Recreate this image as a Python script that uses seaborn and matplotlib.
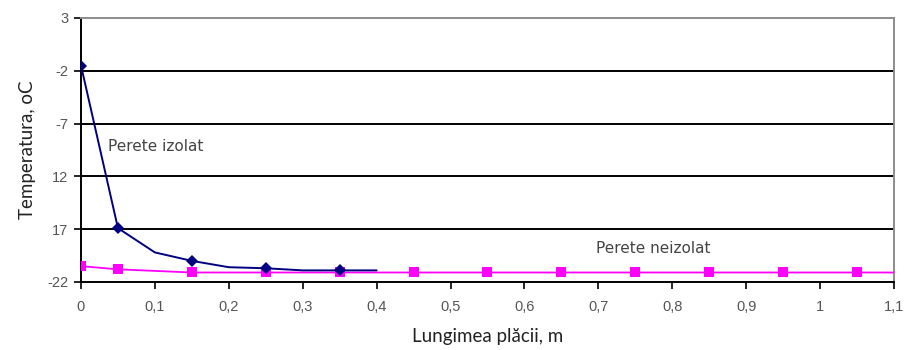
import matplotlib
matplotlib.use("Agg")
import matplotlib.pyplot as plt
import seaborn as sns
import pandas as pd

# Insulated wall: temperature along the plate
izolat_x = [0, 0.05, 0.1, 0.15, 0.2, 0.25, 0.3, 0.35, 0.4]
izolat_t = [-1.5, -16.9, -19.2, -20.0, -20.6, -20.7, -20.9, -20.9, -20.9]
izolat_marked = [0, 1, 3, 5, 7]

# Uninsulated wall
neizolat_x = [0, 0.05, 0.15, 0.25, 0.35, 0.45, 0.55, 0.65, 0.75, 0.85, 0.95, 1.05, 1.1]
neizolat_t = [-20.5, -20.8, -21.1, -21.1, -21.1, -21.1, -21.1, -21.1, -21.1, -21.1, -21.1, -21.1, -21.1]
neizolat_marked = list(range(12))

y_ticks = [3, -2, -7, -12, -17, -22]
y_tick_labels = ["3", "-2", "-7", "12", "17", "-22"]
x_ticks = [0, 0.1, 0.2, 0.3, 0.4, 0.5, 0.6, 0.7, 0.8, 0.9, 1.0, 1.1]
x_tick_labels = ["0", "0,1", "0,2", "0,3", "0,4", "0,5", "0,6", "0,7", "0,8", "0,9", "1", "1,1"]

sns.set_theme(style="white")
plt.rcParams["font.family"] = ["Liberation Sans", "DejaVu Sans"]

fig = plt.figure(figsize=(9.09, 3.5), dpi=100)
ax = fig.add_axes([0.0891, 0.1943, 0.8944, 0.7543])

df_iz = pd.DataFrame({"x": izolat_x, "t": izolat_t})
df_ne = pd.DataFrame({"x": neizolat_x, "t": neizolat_t})

# horizontal grid lines
for yv in y_ticks[1:-1]:
    ax.axhline(yv, color="black", lw=1.4, zorder=1)

sns.lineplot(data=df_ne, x="x", y="t", ax=ax, color="#FF00FF", lw=1.3,
             marker="s", markersize=7, markeredgewidth=0, markevery=neizolat_marked,
             zorder=3)
sns.lineplot(data=df_iz, x="x", y="t", ax=ax, color="#000080", lw=1.4,
             marker="D", markersize=6, markeredgewidth=0, markevery=izolat_marked,
             zorder=4)

ax.set_xlim(0, 1.1)
ax.set_ylim(-22, 3)
ax.set_xticks(x_ticks)
ax.set_xticklabels(x_tick_labels)
ax.set_yticks(y_ticks)
ax.set_yticklabels(y_tick_labels)
ax.tick_params(axis="both", direction="out", length=5, width=1.2, color="black",
               labelsize=10.5, labelcolor="#555555", pad=4, bottom=True, left=True)
ax.tick_params(axis="x", pad=8)

for side in ["left", "bottom"]:
    ax.spines[side].set_color("black")
    ax.spines[side].set_linewidth(1.4)
for side in ["top", "right"]:
    ax.spines[side].set_color("#8c8c8c")
    ax.spines[side].set_linewidth(1.4)

ax.set_xlabel("Lungimea plăcii, m", fontsize=13.5, color="#222222", family=["Lato", "DejaVu Sans"], labelpad=10)
ax.set_ylabel("Temperatura, oC", fontsize=13.5, color="#222222", family=["Lato", "DejaVu Sans"], labelpad=8)

ax.text(0.037, -9.6, "Perete izolat", fontsize=11, color="#444444",
        family=["DejaVu Sans"])
ax.text(0.697, -19.3, "Perete neizolat", fontsize=11, color="#444444",
        family=["DejaVu Sans"])

fig.savefig("out.png", dpi=100, facecolor="white")
